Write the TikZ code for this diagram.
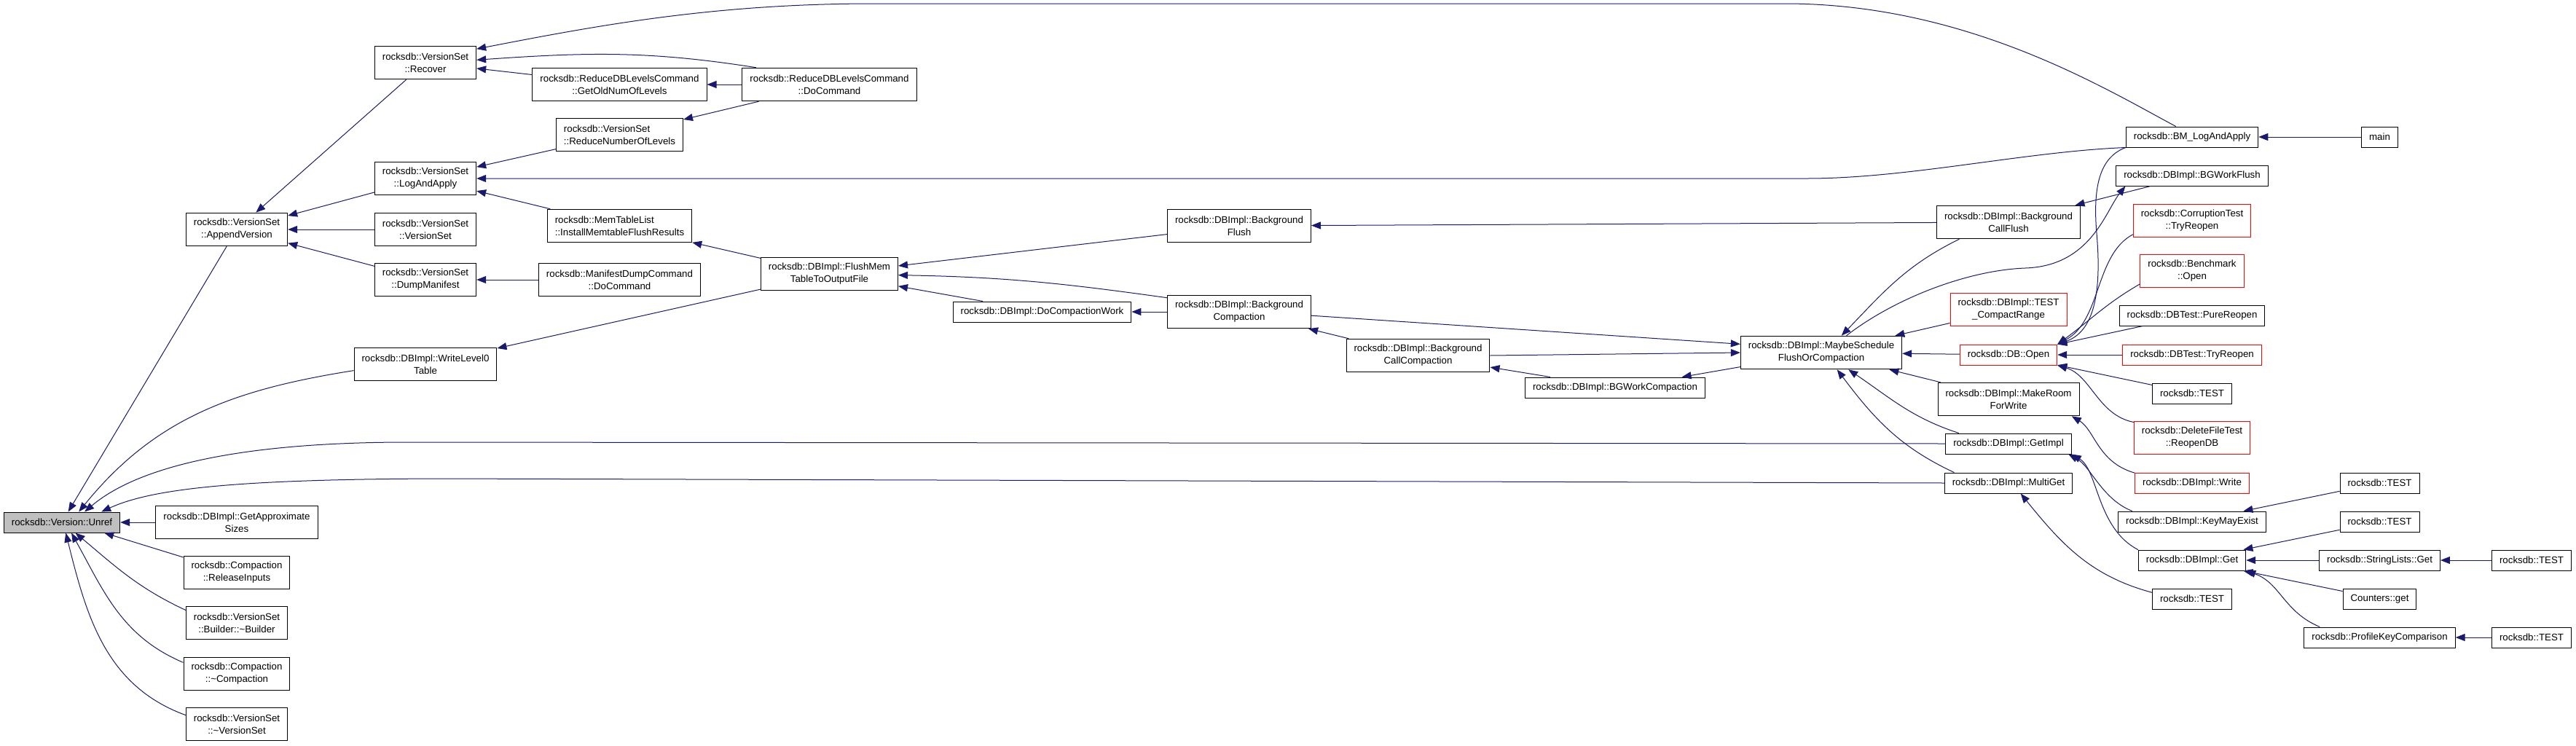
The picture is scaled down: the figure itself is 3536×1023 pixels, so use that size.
\documentclass[tikz,border=0pt]{standalone}
\usepackage{fontspec}
\setmainfont{Liberation Sans}
\usetikzlibrary{arrows.meta}
\definecolor{edgeblue}{HTML}{191970}
\definecolor{nodegray}{HTML}{BFBFBF}
\tikzset{
  fn/.style={draw=black, line width=1pt, fill=white, inner xsep=10.5pt, inner ysep=0pt,
    minimum height=28pt, align=center, font=\fontsize{13.3}{17}\selectfont},
  fntwo/.style={fn, minimum height=45.5pt},
  redbox/.style={draw=red},
  arr/.style={{Triangle[length=13pt,width=10pt]}-, draw=edgeblue, line width=1pt},
}
\begin{document}
\begin{tikzpicture}[x=1pt, y=-1pt]
\useasboundingbox (0,0) rectangle (3536,1023);
\node[fn, fill=nodegray] (unref) at (85,717) {rocksdb::Version::Unref};
\node[fntwo] (append) at (325,315) {rocksdb::VersionSet\\::AppendVersion};
\node[fntwo] (approx) at (325,717) {rocksdb::DBImpl::GetApproximate\\Sizes};
\node[fntwo] (release) at (325,786) {rocksdb::Compaction\\::ReleaseInputs};
\node[fntwo] (builder) at (325,855) {rocksdb::VersionSet\\::Builder::\textasciitilde Builder};
\node[fntwo] (dcomp) at (325,925) {rocksdb::Compaction\\::\textasciitilde Compaction};
\node[fntwo] (dvset) at (325,994) {rocksdb::VersionSet\\::\textasciitilde VersionSet};
\node[fntwo] (recover) at (584,86) {rocksdb::VersionSet\\::Recover};
\node[fntwo] (logapply) at (584,245) {rocksdb::VersionSet\\::LogAndApply};
\node[fntwo] (vsctor) at (584,315) {rocksdb::VersionSet\\::VersionSet};
\node[fntwo] (dumpman) at (584,384) {rocksdb::VersionSet\\::DumpManifest};
\node[fntwo] (writel0) at (584,500) {rocksdb::DBImpl::WriteLevel0\\Table};
\node[fntwo] (oldlevels) at (850.5,116) {rocksdb::ReduceDBLevelsCommand\\::GetOldNumOfLevels};
\node[fntwo, align=left] (reducelev) at (850.5,185) {rocksdb::VersionSet\\::ReduceNumberOfLevels};
\node[fntwo, align=left] (installmem) at (850.5,310) {rocksdb::MemTableList\\::InstallMemtableFlushResults};
\node[fntwo] (mdumpcmd) at (850.5,384) {rocksdb::ManifestDumpCommand\\::DoCommand};
\node[fntwo] (rdbcmd) at (1138.5,116) {rocksdb::ReduceDBLevelsCommand\\::DoCommand};
\node[fntwo] (flushmem) at (1138.5,376) {rocksdb::DBImpl::FlushMem\\TableToOutputFile};
\node[fn] (docompwork) at (1430.5,428) {rocksdb::DBImpl::DoCompactionWork};
\node[fntwo] (bgflush) at (1701,310) {rocksdb::DBImpl::Background\\Flush};
\node[fntwo] (bgcomp) at (1701,428) {rocksdb::DBImpl::Background\\Compaction};
\node[fntwo] (bgcallcomp) at (1946.5,488) {rocksdb::DBImpl::Background\\CallCompaction};
\node[fn] (bgworkcomp) at (2217,532) {rocksdb::DBImpl::BGWorkCompaction};
\node[fntwo] (maybesched) at (2500,484) {rocksdb::DBImpl::MaybeSchedule\\FlushOrCompaction};
\node[fntwo] (bgcallflush) at (2757,305) {rocksdb::DBImpl::Background\\CallFlush};
\node[fntwo, redbox] (testcompact) at (2757,425) {rocksdb::DBImpl::TEST\\\_CompactRange};
\node[fn, redbox] (dbopen) at (2757,487) {rocksdb::DB::Open};
\node[fntwo] (makeroom) at (2757,548) {rocksdb::DBImpl::MakeRoom\\ForWrite};
\node[fn] (getimpl) at (2757,609) {rocksdb::DBImpl::GetImpl};
\node[fn] (multiget) at (2757,663) {rocksdb::DBImpl::MultiGet};
\node[fn] (bmlog) at (3009,188) {rocksdb::BM\_LogAndApply};
\node[fn] (bgworkflush) at (3009,241) {rocksdb::DBImpl::BGWorkFlush};
\node[fntwo, redbox] (corrupt) at (3009,303) {rocksdb::CorruptionTest\\::TryReopen};
\node[fntwo, redbox] (benchopen) at (3009,372) {rocksdb::Benchmark\\::Open};
\node[fn] (purereopen) at (3009,433) {rocksdb::DBTest::PureReopen};
\node[fn, redbox] (tryreopen) at (3009,487) {rocksdb::DBTest::TryReopen};
\node[fntwo, redbox] (reopendb) at (3009,601) {rocksdb::DeleteFileTest\\::ReopenDB};
\node[fn, redbox] (dbwrite) at (3009,663) {rocksdb::DBImpl::Write};
\node[fn] (keymay) at (3009,716) {rocksdb::DBImpl::KeyMayExist};
\node[fn] (dbget) at (3009,769) {rocksdb::DBImpl::Get};
\node[fn] (mainfn) at (3266.5,188) {main};
\node[fn] (strget) at (3266.5,769) {rocksdb::StringLists::Get};
\node[fn] (counters) at (3266.5,822) {Counters::get};
\node[fn] (profkey) at (3266.5,875) {rocksdb::ProfileKeyComparison};
\foreach \n/\x/\y in {testa/3009/540, testb/3009/822, testc/3266.5/663, testd/3266.5/716, teste/3475/769, testf/3475/875}
  \node[fn] (\n) at (\x,\y) {rocksdb::TEST};

\draw[arr] (unref) -- (append);
\draw[arr] (unref.32) to[out=51, in=189] (writel0.185);
\draw[arr] (unref.25) .. controls (190,640) and (330,607) .. (560,607) -- (getimpl.west);
\draw[arr] (unref.15) .. controls (210,670) and (330,658) .. (600,657) -- (multiget.west);
\draw[arr] (unref) -- (approx);
\draw[arr] (unref.-14) -- (release.164);
\draw[arr] (unref.-38) to[out=-40, in=155] (builder.166);
\draw[arr] (unref.-48) to[out=-61, in=157] (dcomp.168);
\draw[arr] (unref.-70) to[out=-76, in=160] (dvset.170);
\draw[arr] (append) -- (recover);
\draw[arr] (append) -- (logapply);
\draw[arr] (append) -- (vsctor);
\draw[arr] (append) -- (dumpman);
\draw[arr] (recover.15) .. controls (820,35) and (980,5) .. (1200,5) -- (2450,5) .. controls (2700,5) and (2890,122) .. (bmlog.147);
\draw[arr] (recover.3) to[out=4, in=171] (rdbcmd.167);
\draw[arr] (recover) -- (oldlevels);
\draw[arr] (oldlevels) -- (rdbcmd);
\draw[arr] (reducelev) -- (rdbcmd);
\draw[arr] (logapply) -- (reducelev);
\draw[arr] (logapply.east) -- (2480,245) .. controls (2620,245) and (2780,208) .. (bmlog.south west);
\draw[arr] (logapply) -- (installmem);
\draw[arr] (dumpman) -- (mdumpcmd);
\draw[arr] (installmem) -- (flushmem);
\draw[arr] (writel0) -- (flushmem);
\draw[arr] (flushmem) -- (bgflush);
\draw[arr] (flushmem.-1) to[out=-1, in=172] (bgcomp.169);
\draw[arr] (flushmem) -- (docompwork);
\draw[arr] (docompwork) -- (bgcomp);
\draw[arr] (bgflush) -- (bgcallflush);
\draw[arr] (bgcomp) -- (bgcallcomp);
\draw[arr] (maybesched.174) -- (bgcomp.-3);
\draw[arr] (maybesched.west) -- (bgcallcomp.east);
\draw[arr] (bgcallcomp) -- (bgworkcomp);
\draw[arr] (bgworkcomp.9) -- (maybesched.190);
\draw[arr] (maybesched.40) to[out=46, in=206] (bgcallflush.199);
\draw[arr] (bgworkflush.189) .. controls (2890,290) and (2870,365) .. (2780,368) .. controls (2700,371) and (2600,410) .. (maybesched.34);
\draw[arr] (bgcallflush) -- (bgworkflush);
\draw[arr] (maybesched) -- (testcompact);
\draw[arr] (maybesched) -- (dbopen);
\draw[arr] (maybesched) -- (makeroom);
\draw[arr] (maybesched.-32) to[out=-34, in=162] (getimpl.168);
\draw[arr] (maybesched.-47) to[out=-53, in=155] (multiget.169);
\draw[arr] (dbopen.north east) .. controls (2875,455) and (2885,400) .. (2878,320) .. controls (2872,250) and (2885,215) .. (bmlog.south west);
\draw[arr] (dbopen.north east) .. controls (2885,440) and (2875,350) .. (corrupt.193);
\draw[arr] (dbopen.north east) to[out=36, in=210] (benchopen.194);
\draw[arr] (dbopen) -- (purereopen);
\draw[arr] (dbopen) -- (tryreopen);
\draw[arr] (dbopen) -- (testa);
\draw[arr] (dbopen.south east) .. controls (2870,515) and (2880,570) .. (reopendb.165);
\draw[arr] (makeroom.-15) .. controls (2875,590) and (2880,635) .. (dbwrite.170);
\draw[arr] (getimpl.-10) .. controls (2870,640) and (2885,685) .. (keymay.170);
\draw[arr] (getimpl.south east) .. controls (2880,645) and (2878,725) .. (dbget.169);
\draw[arr] (multiget.-41) to[out=-51, in=165] (testb.171);
\draw[arr] (bmlog) -- (mainfn);
\draw[arr] (keymay) -- (testc);
\draw[arr] (dbget) -- (testd);
\draw[arr] (dbget) -- (strget);
\draw[arr] (dbget) -- (counters);
\draw[arr] (dbget.south east) .. controls (3130,800) and (3135,840) .. (profkey.170);
\draw[arr] (strget) -- (teste);
\draw[arr] (profkey) -- (testf);
\end{tikzpicture}
\end{document}
